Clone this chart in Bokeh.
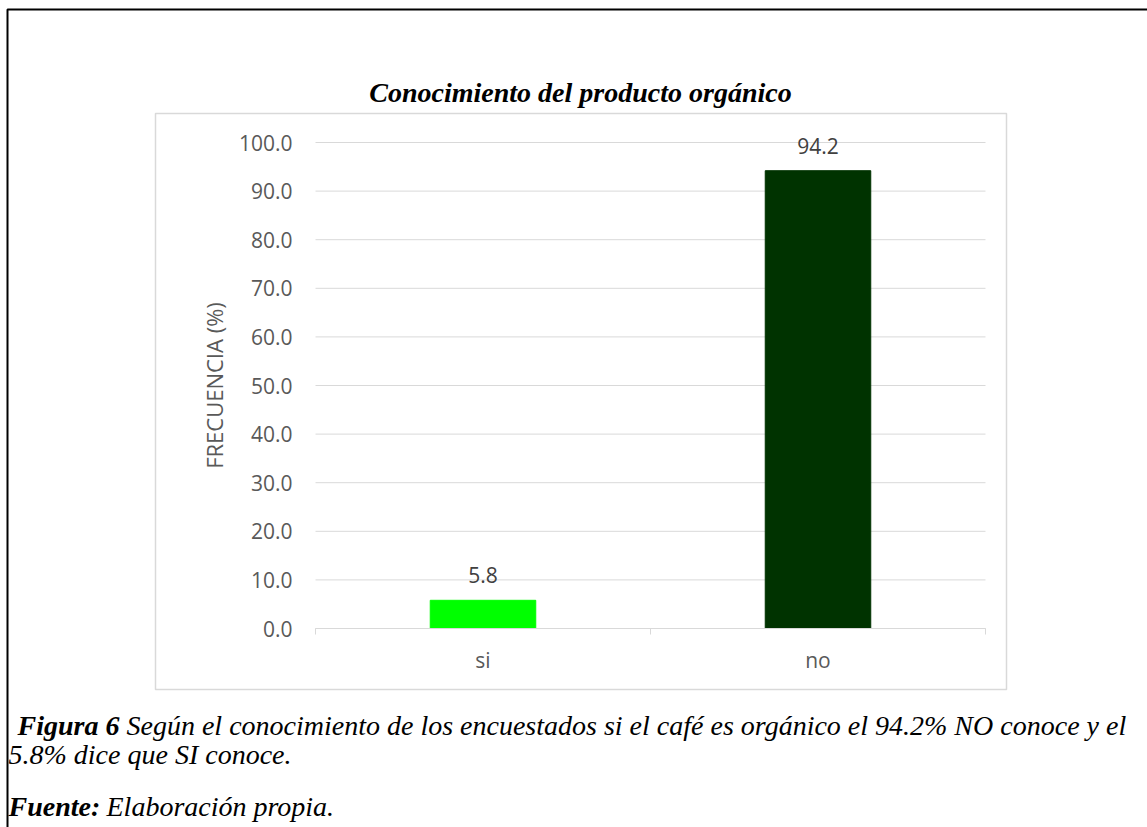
from bokeh.plotting import figure
from bokeh.models import (Range1d, FixedTicker, PrintfTickFormatter, ColumnDataSource,
                          LabelSet, Label, BoxAnnotation)
from bokeh.core.properties import value
from bokeh.embed import file_html
from bokeh.resources import INLINE

# --- data ---------------------------------------------------------------
categories = ["si", "no"]
frecuencia = [5.8, 94.2]
bar_colors = ["#00ff00", "#003300"]
y_ticks = [0, 10, 20, 30, 40, 50, 60, 70, 80, 90, 100]

title_text = "Conocimiento del producto orgánico"
y_label = "FRECUENCIA (%)"
caption_head = "Figura 6"
caption_line1 = "Según el conocimiento de los encuestados si el café es orgánico el 94.2% NO conoce y el"
caption_line2 = "5.8% dice que SI conoce."
source_head = "Fuente:"
source_text = "Elaboración propia."

# --- page geometry (pixels from the top-left corner) ---------------------
W, H = 1147, 827
FL, FR, FT, FB = 315, 985, 142, 628      # edges of the plotting area
Y_MAX = 100
n = len(categories)

SANS = "Open Sans"
SERIF = "Liberation Serif"
GRID = "#d9d9d9"
TICK_SIZE = "21px"

# the canvas is one big frame; data ranges are stretched so that the
# plotting area lands on FL..FR / FT..FB
px_x = (FR - FL) / n
px_y = (FB - FT) / Y_MAX
x_range = Range1d(-FL / px_x, n + (W - FR) / px_x)
y_range = Range1d(-(H - FB) / px_y, Y_MAX + FT / px_y)

p = figure(width=W, height=H, output_backend="svg", toolbar_location=None,
           x_range=x_range, y_range=y_range, min_border=0)
p.extra_x_ranges = {"page": Range1d(0, W)}
p.extra_y_ranges = {"page": Range1d(H, 0)}

p.outline_line_color = None
p.background_fill_color = "white"
p.border_fill_color = "white"
p.xgrid.visible = False
p.ygrid.visible = False

# horizontal gridlines across the plotting area
p.segment(x0=0, x1=n, y0=y_ticks, y1=y_ticks, line_color=GRID, line_width=1)

centers = [i + 0.5 for i in range(n)]
src = ColumnDataSource(dict(
    x=centers, top=frecuencia, color=bar_colors,
    label=[f"{v:.1f}" for v in frecuencia]))

p.vbar(x="x", top="top", bottom=0, width=0.315, color="color", source=src)

p.add_layout(LabelSet(x="x", y="top", text="label", source=src,
                      text_align="center", text_baseline="alphabetic", y_offset=17,
                      text_font=value(SANS), text_font_size=TICK_SIZE, text_color="#404040"))

# y axis, pinned to the left edge of the plotting area
ya = p.yaxis[0]
ya.fixed_location = 0
ya.bounds = (0, Y_MAX)
ya.ticker = FixedTicker(ticks=y_ticks)
ya.formatter = PrintfTickFormatter(format="%.1f")
ya.axis_line_color = None
ya.major_tick_line_color = None
ya.minor_tick_line_color = None
ya.major_tick_out = 0
ya.major_tick_in = 0
ya.major_label_standoff = 23
ya.major_label_text_font = SANS
ya.major_label_text_font_size = TICK_SIZE
ya.major_label_text_color = "#595959"
ya.axis_label = y_label
ya.axis_label_text_font = SANS
ya.axis_label_text_font_size = "22px"
ya.axis_label_text_font_style = "normal"
ya.axis_label_text_color = "#595959"
ya.axis_label_standoff = 7

# x axis at zero: labels at category centres, small marks between categories
xa = p.xaxis[0]
xa.fixed_location = 0
xa.bounds = (0, n)
xa.ticker = FixedTicker(ticks=centers, minor_ticks=list(range(n + 1)))
xa.major_label_overrides = {c: name for c, name in zip(centers, categories)}
xa.axis_line_color = GRID
xa.axis_line_width = 1
xa.major_tick_line_color = None
xa.major_tick_out = 0
xa.major_tick_in = 0
xa.minor_tick_line_color = GRID
xa.minor_tick_out = 6
xa.minor_tick_in = 0
xa.major_label_standoff = 11
xa.major_label_text_font = SANS
xa.major_label_text_font_size = TICK_SIZE
xa.major_label_text_color = "#595959"

# chart area frame and page border
p.add_layout(BoxAnnotation(left=155, right=1006, top=113, bottom=689,
                           x_range_name="page", y_range_name="page",
                           fill_alpha=0, line_color=GRID, line_alpha=1, line_width=1.5))
p.add_layout(BoxAnnotation(left=7, right=1170, top=9, bottom=860,
                           x_range_name="page", y_range_name="page",
                           fill_alpha=0, line_color="black", line_alpha=1, line_width=2))

def page_label(x, y, text, size, style, align="left", color="black", font=SERIF):
    p.add_layout(Label(x=x, y=y, text=text, x_range_name="page", y_range_name="page",
                       text_font=font, text_font_size=size, text_font_style=style,
                       text_align=align, text_baseline="alphabetic", text_color=color))

page_label(580, 92, title_text, "28px", "bold italic", align="center")

CAP = "28px"
page_label(17, 725, caption_head, CAP, "bold italic")
page_label(126, 725, caption_line1, CAP, "italic")
page_label(8, 754, caption_line2, CAP, "italic")
page_label(8, 806, source_head, CAP, "bold italic")
page_label(106, 806, source_text, CAP, "italic")

open("out.html", "w").write(file_html(p, INLINE))
